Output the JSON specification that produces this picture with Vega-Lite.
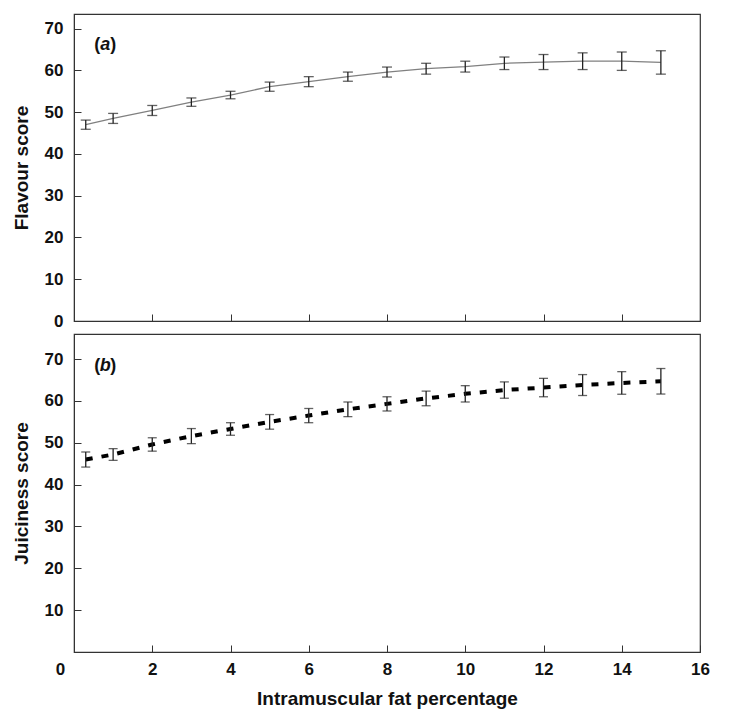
{
  "$schema": "https://vega.github.io/schema/vega-lite/v6.json",
  "background": "white",
  "padding": {"left": 11, "top": 13, "right": 30, "bottom": 10},
  "config": {
    "view": {"stroke": "#333", "strokeWidth": 1.2},
    "concat": {"spacing": 3},
    "axis": {
      "labelFont": "Liberation Sans", "labelFontWeight": "bold", "labelFontSize": 17, "labelColor": "#111",
      "titleFont": "Liberation Sans", "titleFontWeight": "bold", "titleFontSize": 19, "titleColor": "#111",
      "domainColor": "#333", "tickColor": "#333", "tickSize": -7, "grid": false, "labelPadding": 18, "labelFlush": false
    }
  },
  "datasets": {
    "flavour": [
      {"fat": 0.3, "score": 47.0, "lo": 45.9, "hi": 48.1},
      {"fat": 1, "score": 48.5, "lo": 47.3, "hi": 49.7},
      {"fat": 2, "score": 50.4, "lo": 49.2, "hi": 51.6},
      {"fat": 3, "score": 52.4, "lo": 51.4, "hi": 53.4},
      {"fat": 4, "score": 54.1, "lo": 53.2, "hi": 55.0},
      {"fat": 5, "score": 56.1, "lo": 55.0, "hi": 57.2},
      {"fat": 6, "score": 57.3, "lo": 56.1, "hi": 58.5},
      {"fat": 7, "score": 58.5, "lo": 57.4, "hi": 59.6},
      {"fat": 8, "score": 59.6, "lo": 58.4, "hi": 60.8},
      {"fat": 9, "score": 60.4, "lo": 59.1, "hi": 61.7},
      {"fat": 10, "score": 60.9, "lo": 59.6, "hi": 62.2},
      {"fat": 11, "score": 61.7, "lo": 60.2, "hi": 63.2},
      {"fat": 12, "score": 62.0, "lo": 60.2, "hi": 63.8},
      {"fat": 13, "score": 62.2, "lo": 60.2, "hi": 64.2},
      {"fat": 14, "score": 62.2, "lo": 60.0, "hi": 64.4},
      {"fat": 15, "score": 61.9, "lo": 59.1, "hi": 64.7}
    ],
    "juiciness": [
      {"fat": 0.3, "score": 46.0, "lo": 44.2, "hi": 47.8},
      {"fat": 1, "score": 47.2, "lo": 45.8, "hi": 48.6},
      {"fat": 2, "score": 49.6, "lo": 48.0, "hi": 51.2},
      {"fat": 3, "score": 51.6, "lo": 49.8, "hi": 53.4},
      {"fat": 4, "score": 53.3, "lo": 51.8, "hi": 54.8},
      {"fat": 5, "score": 55.0, "lo": 53.25, "hi": 56.75},
      {"fat": 6, "score": 56.5, "lo": 54.8, "hi": 58.2},
      {"fat": 7, "score": 58.0, "lo": 56.25, "hi": 59.75},
      {"fat": 8, "score": 59.3, "lo": 57.6, "hi": 61.0},
      {"fat": 9, "score": 60.6, "lo": 58.85, "hi": 62.35},
      {"fat": 10, "score": 61.7, "lo": 59.75, "hi": 63.65},
      {"fat": 11, "score": 62.6, "lo": 60.65, "hi": 64.55},
      {"fat": 12, "score": 63.2, "lo": 61.0, "hi": 65.4},
      {"fat": 13, "score": 63.8, "lo": 61.3, "hi": 66.3},
      {"fat": 14, "score": 64.3, "lo": 61.6, "hi": 67.0},
      {"fat": 15, "score": 64.7, "lo": 61.65, "hi": 67.75}
    ],
    "labelA": [{"fat": 0.8, "score": 66.0, "letter": "a"}],
    "labelB": [{"fat": 0.8, "score": 68.4, "letter": "b"}]
  },
  "vconcat": [
    {
      "width": 626,
      "height": 307,
      "encoding": {
        "x": {"field": "fat", "type": "quantitative", "scale": {"domain": [0, 16], "nice": false},
              "axis": {"labels": false, "title": null, "values": [2, 4, 6, 8, 10, 12, 14]}},
        "y": {"field": "score", "type": "quantitative", "scale": {"domain": [0, 73.5], "nice": false},
              "axis": {"title": "Flavour score", "values": [0, 10, 20, 30, 40, 50, 60, 70], "titlePadding": 13}}
      },
      "layer": [
        {"data": {"name": "flavour"}, "mark": {"type": "line", "color": "#808080", "strokeWidth": 1.3}},
        {"data": {"name": "flavour"},
         "mark": {"type": "errorbar", "color": "#222", "ticks": {"size": 10, "thickness": 1.3}, "rule": {"strokeWidth": 1.3}},
         "encoding": {"y": {"field": "lo", "type": "quantitative"}, "y2": {"field": "hi"}}},
        {"data": {"name": "labelA"}, "mark": {"type": "text", "font": "Liberation Sans", "fontSize": 18, "fontWeight": "bold", "color": "#111", "dx": -8, "baseline": "middle"}, "encoding": {"text": {"value": "("}}},
        {"data": {"name": "labelA"}, "mark": {"type": "text", "font": "Liberation Sans", "fontSize": 18, "fontWeight": "bold", "fontStyle": "italic", "color": "#111", "baseline": "middle"}, "encoding": {"text": {"field": "letter"}}},
        {"data": {"name": "labelA"}, "mark": {"type": "text", "font": "Liberation Sans", "fontSize": 18, "fontWeight": "bold", "color": "#111", "dx": 8, "baseline": "middle"}, "encoding": {"text": {"value": ")"}}}
      ]
    },
    {
      "width": 626,
      "height": 318,
      "encoding": {
        "x": {"field": "fat", "type": "quantitative", "scale": {"domain": [0, 16], "nice": false},
              "axis": {"title": "Intramuscular fat percentage", "values": [0, 2, 4, 6, 8, 10, 12, 14, 16], "labelPadding": 16, "titlePadding": 12,
                       "labelOffset": {"condition": {"test": "datum.value === 0", "value": -14}, "value": 0}}},
        "y": {"field": "score", "type": "quantitative", "scale": {"domain": [0, 76], "nice": false},
              "axis": {"title": "Juiciness score", "values": [10, 20, 30, 40, 50, 60, 70], "titlePadding": 13}}
      },
      "layer": [
        {"data": {"name": "juiciness"}, "mark": {"type": "line", "color": "#000", "strokeWidth": 4, "strokeDash": [7, 9]}},
        {"data": {"name": "juiciness"},
         "mark": {"type": "errorbar", "color": "#222", "ticks": {"size": 9, "thickness": 1.3}, "rule": {"strokeWidth": 1.3}},
         "encoding": {"y": {"field": "lo", "type": "quantitative"}, "y2": {"field": "hi"}}},
        {"data": {"name": "labelB"}, "mark": {"type": "text", "font": "Liberation Sans", "fontSize": 18, "fontWeight": "bold", "color": "#111", "dx": -8, "baseline": "middle"}, "encoding": {"text": {"value": "("}}},
        {"data": {"name": "labelB"}, "mark": {"type": "text", "font": "Liberation Sans", "fontSize": 18, "fontWeight": "bold", "fontStyle": "italic", "color": "#111", "baseline": "middle"}, "encoding": {"text": {"field": "letter"}}},
        {"data": {"name": "labelB"}, "mark": {"type": "text", "font": "Liberation Sans", "fontSize": 18, "fontWeight": "bold", "color": "#111", "dx": 8, "baseline": "middle"}, "encoding": {"text": {"value": ")"}}}
      ]
    }
  ]
}
